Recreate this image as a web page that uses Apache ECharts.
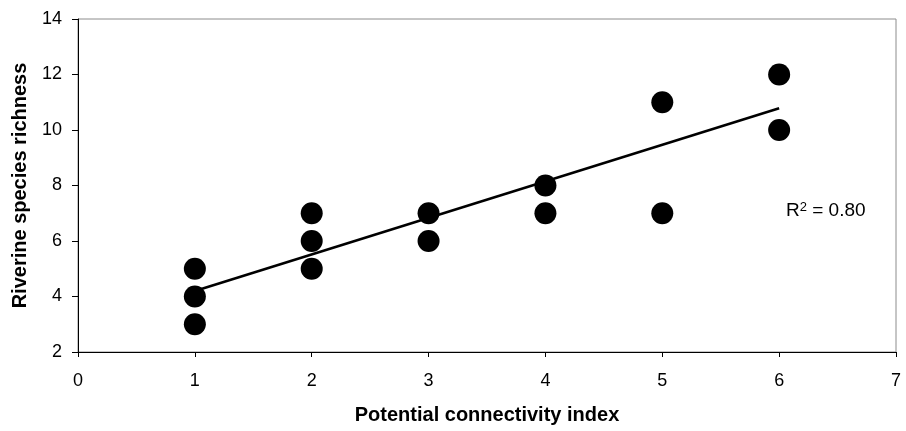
<!DOCTYPE html>
<html>
<head>
<meta charset="utf-8">
<title>Riverine species richness vs potential connectivity</title>
<style>
html,body{margin:0;padding:0;background:#fff;}
#chart{width:906px;height:431px;}
</style>
</head>
<body>
<div id="chart"></div>
<script src="https://cdn.jsdelivr.net/npm/echarts@6/dist/echarts.min.js"></script>
<script>
// observed sites
var connectivity = [1, 1, 1, 2, 2, 2, 3, 3, 4, 4, 5, 5, 6, 6];
var richness     = [5, 4, 3, 7, 6, 5, 7, 6, 8, 7, 11, 7, 12, 10];
// fitted line at its two ends
var trendX = [1, 6];
var trendY = [4.2, 10.78];
var xTicks = [0, 1, 2, 3, 4, 5, 6, 7];
var yTicks = [2, 4, 6, 8, 10, 12, 14];
var r2Label = '0.80';

var font = 'Liberation Sans, Arial, sans-serif';

var points = connectivity.map(function (x, i) { return [x, richness[i]]; });
var trend = trendX.map(function (x, i) { return [x, trendY[i]]; });

var chart = echarts.init(document.getElementById('chart'));
chart.setOption({
    animation: false,
    backgroundColor: '#fff',
    grid: {
        left: 78, right: 10, top: 19, bottom: 79,
        show: true, borderColor: '#8c8c8c', borderWidth: 1
    },
    xAxis: {
        type: 'value',
        min: xTicks[0], max: xTicks[xTicks.length - 1], interval: 1,
        name: 'Potential connectivity index',
        nameLocation: 'middle', nameGap: 53,
        nameTextStyle: { fontFamily: font, fontSize: 20, fontWeight: 'bold', color: '#000' },
        axisLine: { lineStyle: { color: '#000', width: 1 } },
        axisTick: { show: true, length: 5, lineStyle: { color: '#000' } },
        axisLabel: { margin: 20, fontFamily: font, fontSize: 18, color: '#000' },
        splitLine: { show: false }
    },
    yAxis: {
        type: 'value',
        min: yTicks[0], max: yTicks[yTicks.length - 1], interval: 2,
        name: 'Riverine species richness',
        nameLocation: 'middle', nameGap: 48,
        nameTextStyle: { fontFamily: font, fontSize: 20, fontWeight: 'bold', color: '#000' },
        axisLine: { show: true, lineStyle: { color: '#000', width: 1 } },
        axisTick: { show: true, length: 6, lineStyle: { color: '#000' } },
        axisLabel: { margin: 16, fontFamily: font, fontSize: 18, color: '#000' },
        splitLine: { show: false }
    },
    series: [
        {
            type: 'line',
            data: trend,
            symbol: 'none',
            lineStyle: { color: '#000', width: 2.6 },
            z: 2
        },
        {
            type: 'scatter',
            data: points,
            symbol: 'circle',
            symbolSize: 22,
            itemStyle: { color: '#000', opacity: 1 },
            z: 3
        }
    ],
    graphic: [{
        type: 'text',
        left: 786,
        top: 201,
        style: {
            text: 'R{sup|2} = ' + r2Label,
            fontFamily: font,
            fontSize: 19,
            fill: '#000',
            rich: {
                sup: { fontFamily: font, fontSize: 13, verticalAlign: 'top', fill: '#000' }
            }
        }
    }]
});
</script>
</body>
</html>
